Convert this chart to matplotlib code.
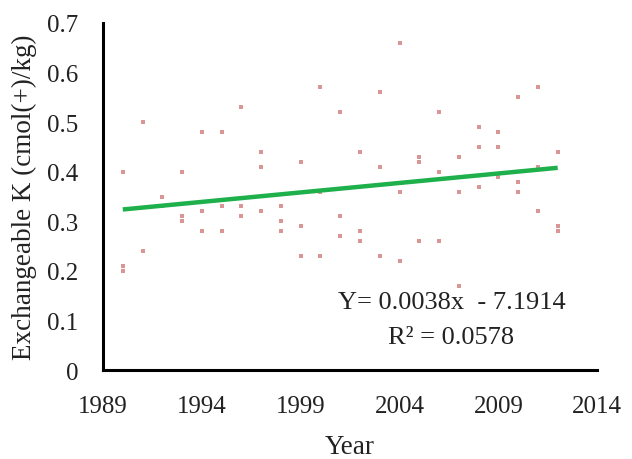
import matplotlib
matplotlib.use("Agg")
import matplotlib.pyplot as plt

years = [1990, 1990, 1990, 1991, 1991, 1992, 1992, 1993, 1993, 1993,
         1994, 1994, 1994, 1995, 1995, 1995, 1996, 1996, 1996,
         1997, 1997, 1997, 1998, 1998, 1998, 1999, 1999, 1999,
         2000, 2000, 2000, 2001, 2001, 2001, 2002, 2002, 2002,
         2003, 2003, 2003, 2004, 2004, 2004, 2005, 2005, 2005,
         2006, 2006, 2006, 2007, 2007, 2007, 2008, 2008, 2008,
         2009, 2009, 2009, 2010, 2010, 2010, 2011, 2011, 2011,
         2012, 2012, 2012]
values = [0.40, 0.21, 0.20, 0.50, 0.24, 0.35, 0.33, 0.40, 0.31, 0.30,
          0.48, 0.32, 0.28, 0.48, 0.33, 0.28, 0.53, 0.33, 0.31,
          0.44, 0.41, 0.32, 0.33, 0.30, 0.28, 0.42, 0.29, 0.23,
          0.57, 0.36, 0.23, 0.52, 0.31, 0.27, 0.44, 0.28, 0.26,
          0.56, 0.41, 0.23, 0.66, 0.36, 0.22, 0.43, 0.42, 0.26,
          0.52, 0.40, 0.26, 0.43, 0.36, 0.17, 0.49, 0.45, 0.37,
          0.48, 0.45, 0.39, 0.55, 0.38, 0.36, 0.57, 0.41, 0.32,
          0.44, 0.29, 0.28]

trend_years = [1990, 2012]
trend_values = [0.324, 0.408]

x_ticks = [1989, 1994, 1999, 2004, 2009, 2014]
y_ticks = [0, 0.1, 0.2, 0.3, 0.4, 0.5, 0.6, 0.7]
y_tick_labels = ["0", "0.1", "0.2", "0.3", "0.4", "0.5", "0.6", "0.7"]

plt.rcParams['font.family'] = ['Liberation Serif', 'DejaVu Serif']

fig = plt.figure(figsize=(6.32, 4.6), dpi=100)
ax = fig.add_axes([0.163, 0.193, 0.782, 0.755])

ax.scatter(years, values, marker='s', s=10, color='#C0504D', alpha=0.6,
           linewidths=0, zorder=2)
ax.plot(trend_years, trend_values, color='#1DB04B', linewidth=3.2,
        solid_capstyle='butt', zorder=3)

ax.set_xlim(1989, 2014)
ax.set_ylim(0, 0.7)
ax.set_xticks(x_ticks)
ax.set_xticklabels([str(t) for t in x_ticks])
ax.set_yticks(y_ticks)
ax.set_yticklabels(y_tick_labels)
ax.tick_params(axis='both', length=0, labelsize=18, colors='#222222')
ax.tick_params(axis='y', pad=18)
ax.tick_params(axis='x', pad=18)

for side in ['top', 'right']:
    ax.spines[side].set_visible(False)
for side in ['left', 'bottom']:
    ax.spines[side].set_linewidth(2.2)
    ax.spines[side].set_color('black')

ax.set_xlabel("Year", fontsize=19.5, color='#222222', labelpad=12)
ax.set_ylabel("Exchangeable K (cmol(+)/kg)", fontsize=19.5, color='#222222',
              labelpad=7)

ax.text(0.705, 0.195, "Y= 0.0038x  - 7.1914", transform=ax.transAxes,
        fontsize=19, color='#222222', ha='center', va='center')
ax.text(0.705, 0.096, "R² = 0.0578", transform=ax.transAxes,
        fontsize=19, color='#222222', ha='center', va='center')

fig.savefig("out.png", dpi=100)
